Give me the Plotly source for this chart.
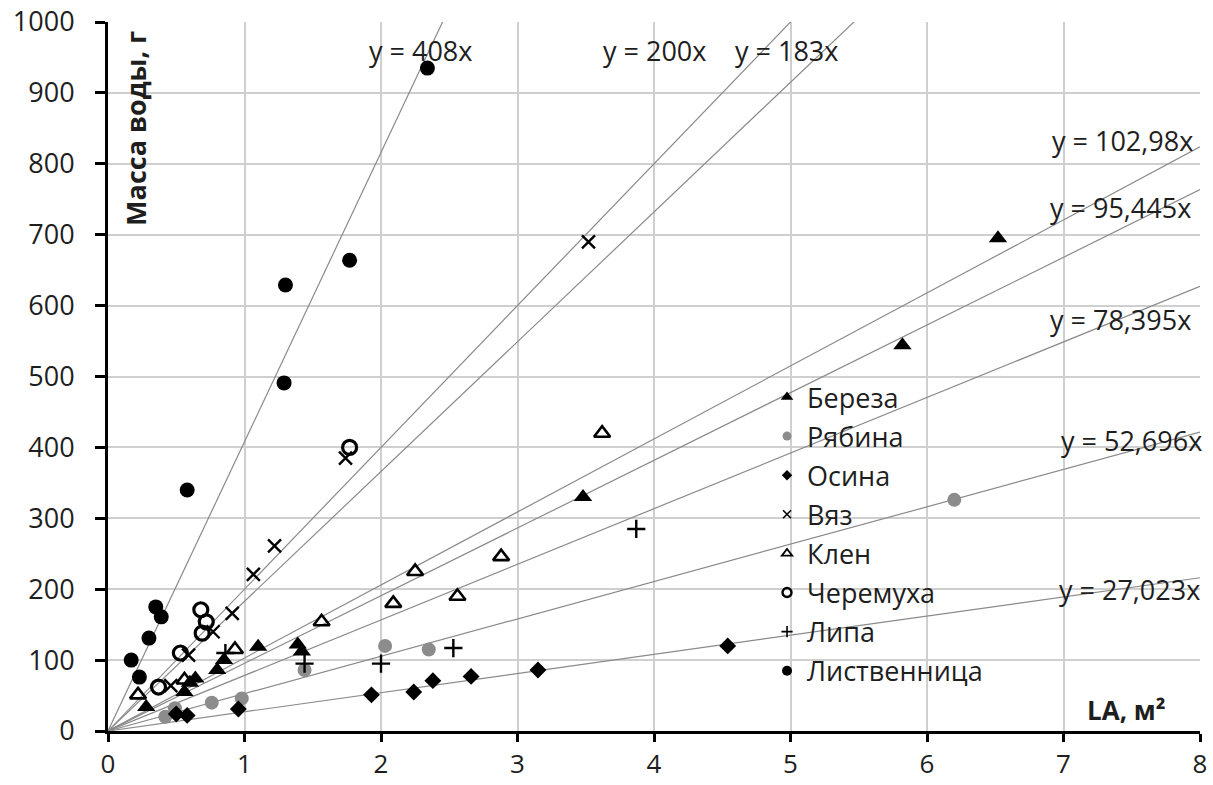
import plotly.graph_objects as go

# ---- data ----
bereza_x = [0.28, 0.56, 0.60, 0.64, 0.80, 0.85, 1.10, 1.39, 1.42, 3.48, 5.82, 6.52]
bereza_y = [34, 55, 68, 74, 86, 100, 119, 122, 112, 330, 544, 695]

ryabina_x = [0.42, 0.49, 0.76, 0.98, 1.44, 2.03, 2.35, 6.20]
ryabina_y = [20, 32, 40, 46, 86, 120, 115, 326]

osina_x = [0.50, 0.58, 0.955, 1.93, 2.24, 2.38, 2.66, 3.15, 4.54]
osina_y = [24, 22, 31, 51, 55, 71, 77, 86, 120]

vyaz_x = [0.46, 0.59, 0.77, 0.91, 1.065, 1.22, 1.74, 3.52]
vyaz_y = [64, 107, 140, 166, 221, 261, 385, 690]

klen_x = [0.22, 0.56, 0.93, 1.565, 2.09, 2.25, 2.56, 2.88, 3.62]
klen_y = [51, 72, 115, 154, 180, 225, 190, 246, 420]

cheremukha_x = [0.37, 0.53, 0.69, 0.72, 0.68, 1.77]
cheremukha_y = [62, 110, 138, 154, 171, 400]

lipa_x = [0.86, 1.44, 2.00, 2.53, 3.87]
lipa_y = [110, 95, 95, 117, 285]

listv_x = [0.17, 0.23, 0.30, 0.35, 0.39, 0.58, 1.29, 1.30, 1.77, 2.34]
listv_y = [100, 76, 131, 175, 161, 340, 491, 629, 664, 935]

slopes = [408, 200, 183, 102.98, 95.445, 78.395, 52.696, 27.023]
slope_labels = ["y = 408x", "y = 200x", "y = 183x", "y = 102,98x", "y = 95,445x",
                "y = 78,395x", "y = 52,696x", "y = 27,023x"]
label_x = [2.29, 4.00, 4.97, 7.43, 7.42, 7.42, 7.50, 7.48]
label_y = [960, 960, 960, 833, 738, 580, 410, 199]

x_ticks = [0, 1, 2, 3, 4, 5, 6, 7, 8]
y_ticks = [0, 100, 200, 300, 400, 500, 600, 700, 800, 900, 1000]

FONT = "Open Sans"
TXT = "#1e1e1e"
fig = go.Figure()

# trend lines (clipped by the axis range)
for s in slopes:
    fig.add_trace(go.Scatter(x=[0, 8], y=[0, 8 * s], mode="lines",
                             line=dict(color="#8a8a8a", width=1.2),
                             showlegend=False, hoverinfo="skip"))

series = [
    ("Береза", bereza_x, bereza_y, "triangle-up", "black", 16, 0),
    ("Рябина", ryabina_x, ryabina_y, "circle", "#8c8c8c", 14, 0),
    ("Осина", osina_x, osina_y, "diamond", "black", 13, 0),
    ("Вяз", vyaz_x, vyaz_y, "x-thin", "black", 13, 2.4),
    ("Клен", klen_x, klen_y, "triangle-up-open", "black", 14, 2.6),
    ("Черемуха", cheremukha_x, cheremukha_y, "circle-open", "black", 14, 3.2),
    ("Липа", lipa_x, lipa_y, "cross-thin", "black", 13, 2.4),
    ("Лиственница", listv_x, listv_y, "circle", "black", 15, 0),
]
for i, (name, xs, ys, sym, col, sz, lw) in enumerate(series):
    mk = dict(symbol=sym, color=col, size=sz)
    if lw:
        mk["line"] = dict(color=col, width=lw)
    fig.add_trace(go.Scatter(x=xs, y=ys, mode="markers", name=name, marker=mk,
                             showlegend=False, cliponaxis=False))
    lmk = dict(symbol=sym, color=col, size=max(7, sz - 5))
    if lw:
        lmk["line"] = dict(color=col, width=max(1.5, lw - 0.8))
    fig.add_trace(go.Scatter(x=[None], y=[None], mode="markers", name=name, marker=lmk,
                             legendgroup=str(i), showlegend=True))

for t, lx, ly in zip(slope_labels, label_x, label_y):
    fig.add_annotation(x=lx, y=ly, text=t, showarrow=False,
                       font=dict(family=FONT, size=27, color=TXT))

fig.add_annotation(xref="paper", yref="paper", x=0.025, y=0.99, text="<b>Масса воды, г</b>",
                   textangle=-90, showarrow=False, xanchor="center", yanchor="top",
                   font=dict(family=FONT, size=27, color=TXT))
fig.add_annotation(x=7.46, y=30, text="<b>LA, м²</b>", showarrow=False,
                   font=dict(family=FONT, size=26, color=TXT))

axis_common = dict(showgrid=True, gridcolor="#cfcfcf", gridwidth=1.5,
                   showline=True, linecolor="black", linewidth=3,
                   ticks="outside", tickwidth=2.5, tickcolor="black",
                   zeroline=False, ticklabeloverflow="allow", automargin=False)

fig.update_layout(
    width=1213, height=785,
    margin=dict(l=108, r=13, t=22, b=54, autoexpand=False),
    paper_bgcolor="white", plot_bgcolor="white",
    font=dict(family=FONT, size=27, color=TXT),
    legend=dict(x=0.6035, y=0.505, xanchor="left", yanchor="top",
                font=dict(family=FONT, size=27, color=TXT),
                traceorder="grouped", tracegroupgap=1,
                bgcolor="rgba(0,0,0,0)", itemwidth=30),
    xaxis=dict(range=[0, 8], tickvals=x_ticks, ticklen=8, ticklabelstandoff=0,
               tickfont=dict(family=FONT, size=26, color=TXT), **axis_common),
    yaxis=dict(range=[0, 1000], tickvals=y_ticks, ticklen=10, ticklabelstandoff=15,
               tickfont=dict(family=FONT, size=27, color=TXT), **axis_common),
)

fig.write_html("out.html", config={"displayModeBar": False},
               post_script="document.body.style.margin='0';document.body.style.overflow='hidden';")
